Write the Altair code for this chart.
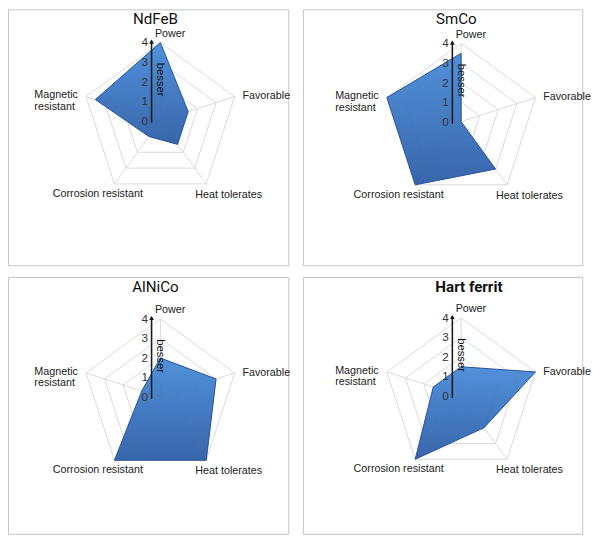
import altair as alt
import pandas as pd

# ---- data -------------------------------------------------------------
categories = ["Power", "Favorable", "Heat tolerates", "Corrosion resistant",
              "Magnetic\nresistant"]
magnets = ["NdFeB", "SmCo", "AlNiCo", "Hart  ferrit"]
ndfeb = [4.0, 1.5, 1.5, 1.0, 3.5]
smco = [3.5, 0.0, 3.0, 4.0, 4.0]
alnico = [2.0, 3.0, 4.0, 4.0, 1.0]
hart_ferrit = [1.5, 4.0, 2.0, 4.0, 1.5]
series = [ndfeb, smco, alnico, hart_ferrit]
levels = [1, 2, 3, 4]
tick_values = [0, 1, 2, 3, 4]
arrow_text = "besser"

# ---- layout / style ---------------------------------------------------
label_dx = [0.5, 4.2, 3.5, -3.2, -6.45]
label_dy = [4.43, 1.25, -3.8, -3.75, 1.3]
label_align = ["center", "left", "center", "center", "left"]
title_dx = [-0.25, -0.25, -0.25, 0.4]
title_weight = ["normal", "normal", "normal", "bold"]

PX = 20
panel_w = [287, 286]
panel_h = [262, 263]
centers = [(156, 114), (162, 115), (156, 123), (162, 122)]

ANG = "(PI/2 - datum.i*2*PI/5)"
LABEL_FONT = "Liberation Sans"

grad = alt.Gradient(
    gradient="linear",
    stops=[alt.GradientStop(color="#4489d8", offset=0),
           alt.GradientStop(color="#2a5aa4", offset=1)],
    x1=0, x2=0, y1=0, y2=1,
)


def panel(k):
    vals = series[k]
    col, row = k % 2, k // 2
    W, H = panel_w[col], panel_h[row]
    cx, cy = centers[k]
    xs = alt.Scale(domain=[-cx / PX, (W - cx) / PX], nice=False, zero=False)
    ys = alt.Scale(domain=[-(H - cy) / PX, cy / PX], nice=False, zero=False)

    def X(f="x"):
        return alt.X(f"{f}:Q", scale=xs, axis=None)

    def Y(f="y"):
        return alt.Y(f"{f}:Q", scale=ys, axis=None)

    ring_df = pd.DataFrame([{"lev": l, "i": i} for l in levels for i in range(5)])
    rings = alt.Chart(ring_df).transform_calculate(
        x=f"datum.lev*cos{ANG}", y=f"datum.lev*sin{ANG}"
    ).mark_line(interpolate="linear-closed", stroke="#d9d9d9", strokeWidth=1).encode(
        x=X(), y=Y(), detail="lev:N", order="i:Q"
    )

    spoke_df = pd.DataFrame({"i": list(range(5))})
    spokes = alt.Chart(spoke_df).transform_calculate(
        x0="0", y0="0", x=f"4*cos{ANG}", y=f"4*sin{ANG}"
    ).mark_rule(stroke="#d9d9d9", strokeWidth=1).encode(
        x=X("x0"), y=Y("y0"), x2="x:Q", y2="y:Q"
    )

    poly_df = pd.DataFrame({"i": list(range(5)), "cat": categories, "v": vals})
    poly = alt.Chart(poly_df).transform_calculate(
        x=f"datum.v*cos{ANG}", y=f"datum.v*sin{ANG}"
    ).mark_line(
        interpolate="linear-closed", fill=grad, fillOpacity=0.93,
        stroke="#23529c", strokeWidth=1
    ).encode(x=X(), y=Y(), order="i:Q")

    arrow = alt.Chart(pd.DataFrame({"x": [-0.45], "y": [-0.1], "y2": [4.1]})).mark_rule(
        color="#1a1a1a", strokeWidth=1.6
    ).encode(x=X(), y=Y(), y2="y2:Q")
    head = alt.Chart(pd.DataFrame({"x": [-0.45], "y": [4.05]})).mark_point(
        shape="triangle-up", filled=True, size=24, color="#1a1a1a", opacity=1
    ).encode(x=X(), y=Y())

    ticks = alt.Chart(pd.DataFrame({"x": [-0.8] * 5, "y": tick_values,
                                    "t": [str(t) for t in tick_values]})).mark_text(
        font=LABEL_FONT, fontSize=12, color="#333333"
    ).encode(x=X(), y=Y(), text="t:N")

    besser = alt.Chart(pd.DataFrame({"x": [0.0], "y": [2.1], "t": [arrow_text]})).mark_text(
        font=LABEL_FONT, fontSize=11.5, color="#111111", angle=90
    ).encode(x=X(), y=Y(), text="t:N")

    lab_df = pd.DataFrame({"x": label_dx, "y": label_dy, "t": categories,
                           "a": label_align})
    labs_c = alt.Chart(lab_df[lab_df.a == "center"]).mark_text(
        font=LABEL_FONT, fontSize=11, color="#222222", align="center", lineBreak="\n"
    ).encode(x=X(), y=Y(), text="t:N")
    labs_l = alt.Chart(lab_df[lab_df.a == "left"]).mark_text(
        font=LABEL_FONT, fontSize=11, color="#222222", align="left", lineBreak="\n",
        lineHeight=12
    ).encode(x=X(), y=Y(), text="t:N")

    title = alt.Chart(pd.DataFrame({"x": [title_dx[k]], "y": [(cy - 15) / PX],
                                    "t": [magnets[k]]})).mark_text(
        font="Roboto", fontSize=15.5, color="#111111", fontWeight=title_weight[k],
        baseline="alphabetic"
    ).encode(x=X(), y=Y(), text="t:N")

    return alt.layer(rings, spokes, poly, arrow, head, ticks, besser,
                     labs_c, labs_l, title).properties(width=W, height=H)


chart = alt.vconcat(
    alt.hconcat(panel(0), panel(1), spacing=11),
    alt.hconcat(panel(2), panel(3), spacing=11),
    spacing=10,
    padding={"top": -6, "left": -1, "right": 0, "bottom": 0},
).configure_view(stroke="#c4c4c4", strokeWidth=1)

chart.save("out.html", embed_options={"renderer": "svg", "actions": False})
